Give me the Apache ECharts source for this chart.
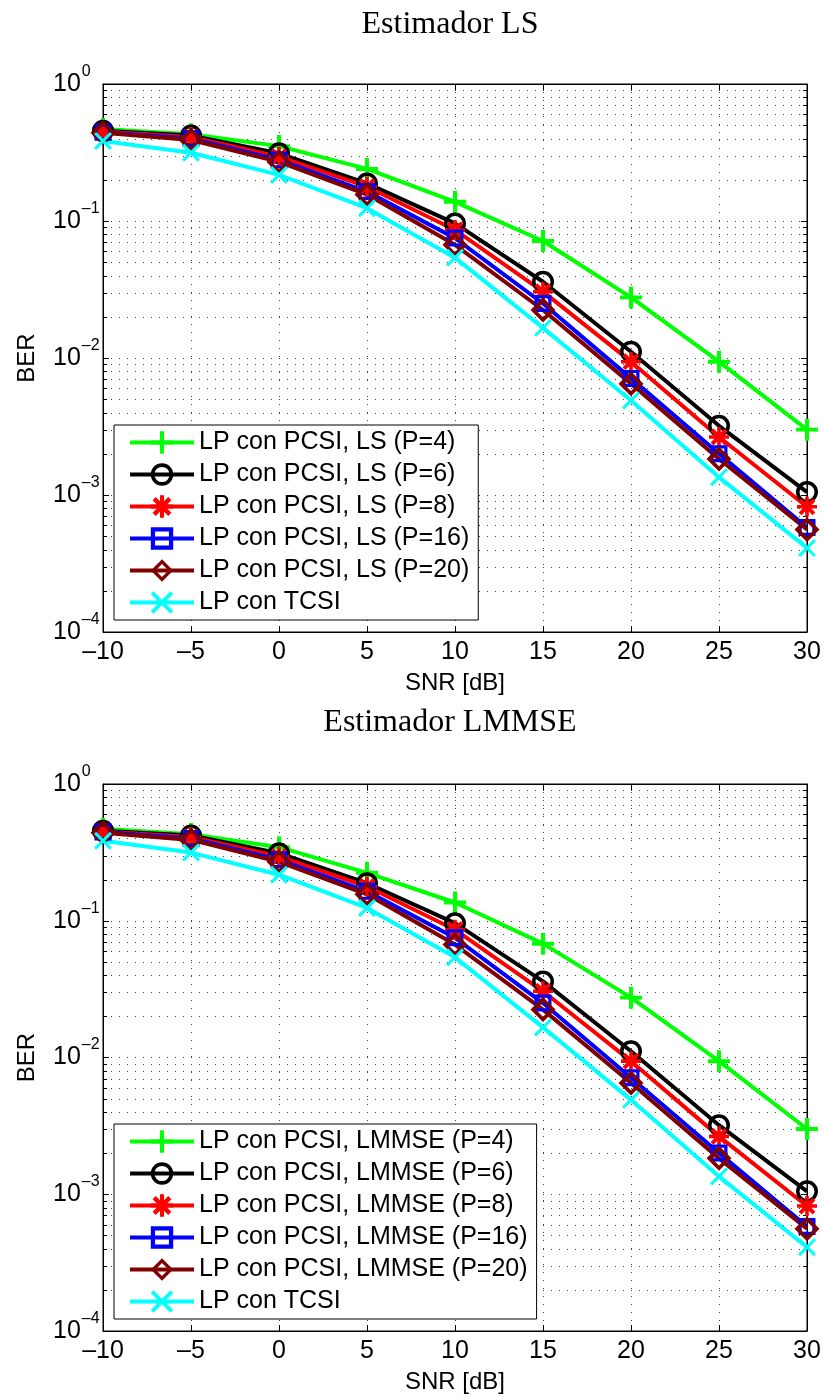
<!DOCTYPE html>
<html>
<head>
<meta charset="utf-8">
<script src="https://cdn.jsdelivr.net/npm/echarts@6/dist/echarts.min.js"></script>
<style>
  html, body { margin: 0; padding: 0; background: #fff; }
  #main { width: 826px; height: 1397px; }
</style>
</head>
<body>
<div id="main"></div>
<script>
// SNR axis (dB)
const snr = [-10, -5, 0, 5, 10, 15, 20, 25, 30];

// BER values, LS estimator (upper plot)
const lsP4  = [0.47, 0.43, 0.352, 0.240, 0.138, 0.0714, 0.0277, 0.0094, 0.0030];
const lsP6  = [0.455, 0.42, 0.312, 0.188, 0.096, 0.036, 0.0111, 0.0032, 0.00105];
const lsP8  = [0.45, 0.41, 0.295, 0.178, 0.086, 0.0305, 0.0094, 0.00265, 0.00082];
const lsP16 = [0.445, 0.40, 0.279, 0.164, 0.075, 0.025, 0.0071, 0.0020, 0.00058];
const lsP20 = [0.44, 0.39, 0.270, 0.156, 0.067, 0.0224, 0.0065, 0.00183, 0.00056];
const lsTcsi = [0.384, 0.315, 0.217, 0.124, 0.054, 0.0166, 0.0049, 0.00135, 0.00041];

// BER values, LMMSE estimator (lower plot)
const lmP4  = [0.47, 0.43, 0.345, 0.224, 0.136, 0.068, 0.0274, 0.0094, 0.0030];
const lmP6  = [0.455, 0.42, 0.312, 0.188, 0.096, 0.036, 0.0111, 0.0032, 0.00105];
const lmP8  = [0.45, 0.41, 0.295, 0.178, 0.086, 0.0305, 0.0094, 0.00265, 0.00082];
const lmP16 = [0.445, 0.40, 0.279, 0.164, 0.075, 0.025, 0.0071, 0.0020, 0.00058];
const lmP20 = [0.44, 0.39, 0.270, 0.156, 0.067, 0.0224, 0.0065, 0.00183, 0.00056];
const lmTcsi = [0.384, 0.315, 0.217, 0.124, 0.054, 0.0166, 0.0049, 0.00135, 0.00041];

const lsNames = ['LP con PCSI, LS (P=4)', 'LP con PCSI, LS (P=6)', 'LP con PCSI, LS (P=8)',
  'LP con PCSI, LS (P=16)', 'LP con PCSI, LS (P=20)', 'LP con TCSI'];
const lmNames = ['LP con PCSI, LMMSE (P=4)', 'LP con PCSI, LMMSE (P=6)', 'LP con PCSI, LMMSE (P=8)',
  'LP con PCSI, LMMSE (P=16)', 'LP con PCSI, LMMSE (P=20)', 'LP con TCSI'];

// tick values for the log axis minor grid (mantissa x decade)
const minorMantissas = [2, 3, 4, 5, 6, 7, 8, 9];
const decades = [1e-4, 1e-3, 1e-2, 1e-1];

// matlab-like marker shapes
const SYM = {
  plus: 'path://M-1.8,-10H1.8V-1.8H10V1.8H1.8V10H-1.8V1.8H-10V-1.8H-1.8Z',
  circle: 'path://M0,-10A10,10,0,1,1,0,10A10,10,0,1,1,0,-10Z M0,-6.8A6.8,6.8,0,1,0,0,6.8A6.8,6.8,0,1,0,0,-6.8Z',
  star: 'path://M-1.8,-10H1.8V-1.8H10V1.8H1.8V10H-1.8V1.8H-10V-1.8H-1.8Z M-5.6,-8.4L8.4,5.6L5.6,8.4L-8.4,-5.6Z M5.6,-8.4L8.4,-5.6L-5.6,8.4L-8.4,5.6Z',
  square: 'path://M-10,-10H10V10H-10Z M-6.2,-6.2V6.2H6.2V-6.2Z',
  diamond: 'path://M0,-10L10,0L0,10L-10,0Z M0,-5.8L-5.8,0L0,5.8L5.8,0Z',
  cross: 'path://M-7.6,-10L10,7.6L7.6,10L-10,-7.6Z M7.6,-10L10,-7.6L-7.6,10L-10,7.6Z'
};

const styles = [
  { color: '#00ff00', symbol: SYM.plus, size: 22 },
  { color: '#000000', symbol: SYM.circle, size: 22 },
  { color: '#ff0000', symbol: SYM.star, size: 20 },
  { color: '#0000ff', symbol: SYM.square, size: 17 },
  { color: '#800000', symbol: SYM.diamond, size: 25 },
  { color: '#00ffff', symbol: SYM.cross, size: 18 }
];

const FONT = 'Liberation Sans';
const dotted = { color: '#444', width: 1, type: [1, 7] };

const minorVals = [];
decades.forEach(d => minorMantissas.forEach(m => minorVals.push([snr[0], m * d])));

function supLabel(v) {
  const e = Math.round(Math.log10(v));
  return '{b|10}{s|' + (e < 0 ? '\u2013' + Math.abs(e) : e) + '}';
}

function makeX(gridIndex, pos) {
  return {
    type: 'value', gridIndex: gridIndex, position: pos,
    min: -10, max: 30, interval: 5,
    axisLine: { show: true, onZero: false, lineStyle: { color: '#000', width: 1 } },
    axisTick: { show: true, inside: true, length: 6, lineStyle: { color: '#000' } },
    axisLabel: {
      show: pos === 'bottom', margin: 8, color: '#000', fontSize: 25, fontFamily: FONT,
      formatter: v => v < 0 ? '\u2013' + Math.abs(v) : '' + v
    },
    splitLine: { show: pos === 'bottom', lineStyle: dotted },
    name: pos === 'bottom' ? 'SNR [dB]' : '',
    nameLocation: 'middle', nameGap: 39,
    nameTextStyle: { color: '#000', fontSize: 24, fontFamily: FONT }
  };
}

function makeY(gridIndex, pos) {
  return {
    type: 'log', logBase: 10, gridIndex: gridIndex, position: pos,
    min: 1e-4, max: 1,
    axisLine: { show: true, onZero: false, lineStyle: { color: '#000', width: 1 } },
    axisTick: { show: true, inside: true, length: 6, lineStyle: { color: '#000' } },
    axisLabel: {
      show: pos === 'left', margin: 50, align: 'left', color: '#000', fontFamily: FONT,
      formatter: supLabel,
      padding: [0, 0, 8, 0],
      rich: {
        b: { fontSize: 25, fontFamily: FONT, color: '#000', verticalAlign: 'bottom', padding: [8, 0, 0, 0] },
        s: { fontSize: 16, fontFamily: FONT, color: '#000', verticalAlign: 'top', padding: [0, 0, 0, 1] }
      }
    },
    splitLine: { show: pos === 'left', lineStyle: dotted },
    name: pos === 'left' ? 'BER' : '',
    nameLocation: 'middle', nameGap: 64,
    nameTextStyle: { color: '#000', fontSize: 24, fontFamily: FONT }
  };
}

// minor dotted rows + small inner ticks on both sides
function minorGrid(params, api) {
  const v = api.value(1);
  const p0 = api.coord([snr[0], v]);
  const p1 = api.coord([snr[snr.length - 1], v]);
  const y = Math.round(p0[1]) + 0.5;
  return {
    type: 'group',
    children: [
      { type: 'line', shape: { x1: p0[0], y1: y, x2: p1[0], y2: y }, style: { stroke: '#444', lineWidth: 1, lineDash: [1, 7] } },
      { type: 'line', shape: { x1: p0[0], y1: y, x2: p0[0] + 4, y2: y }, style: { stroke: '#000', lineWidth: 1 } },
      { type: 'line', shape: { x1: p1[0] - 4, y1: y, x2: p1[0], y2: y }, style: { stroke: '#000', lineWidth: 1 } }
    ]
  };
}

function lineSeries(name, vals, st, axisIdx) {
  return {
    type: 'line', name: name,
    xAxisIndex: axisIdx, yAxisIndex: axisIdx,
    data: snr.map((x, i) => [x, vals[i]]),
    symbol: st.symbol, symbolSize: st.size,
    lineStyle: { color: st.color, width: 4 },
    itemStyle: { color: st.color, borderWidth: 0 },
    z: 3
  };
}

function legendOf(names, top) {
  return {
    data: names, orient: 'vertical', left: 114, top: top,
    padding: [5, 9, 5, 14], itemGap: 7, itemWidth: 64, itemHeight: 28,
    backgroundColor: '#fff', borderColor: '#000', borderWidth: 1, borderRadius: 0,
    selectedMode: false,
    lineStyle: { width: 4 },
    textStyle: { color: '#000', fontSize: 25, fontFamily: FONT }
  };
}

const lsData = [lsP4, lsP6, lsP8, lsP16, lsP20, lsTcsi];
const lmData = [lmP4, lmP6, lmP8, lmP16, lmP20, lmTcsi];

const series = [
  { type: 'custom', xAxisIndex: 0, yAxisIndex: 0, data: minorVals, renderItem: minorGrid, silent: true, z: 1 },
  { type: 'custom', xAxisIndex: 2, yAxisIndex: 2, data: minorVals, renderItem: minorGrid, silent: true, z: 1 }
];
lsData.forEach((d, i) => series.push(lineSeries(lsNames[i], d, styles[i], 0)));
lmData.forEach((d, i) => series.push(lineSeries(lmNames[i], d, styles[i], 2)));

const chart = echarts.init(document.getElementById('main'));
chart.setOption({
  animation: false,
  backgroundColor: '#fff',
  title: [
    { text: 'Estimador LS', left: 445, top: 4, textAlign: 'center',
      textStyle: { fontFamily: 'Liberation Serif', fontWeight: 'normal', fontSize: 32, color: '#000' } },
    { text: 'Estimador LMMSE', left: 445, top: 702, textAlign: 'center',
      textStyle: { fontFamily: 'Liberation Serif', fontWeight: 'normal', fontSize: 32, color: '#000' } }
  ],
  grid: [
    { left: 103, top: 84, width: 704, height: 548, show: true, borderColor: '#000', borderWidth: 1, backgroundColor: '#fff' },
    { left: 103, top: 784, width: 704, height: 547, show: true, borderColor: '#000', borderWidth: 1, backgroundColor: '#fff' }
  ],
  xAxis: [makeX(0, 'bottom'), makeX(0, 'top'), makeX(1, 'bottom'), makeX(1, 'top')],
  yAxis: [makeY(0, 'left'), makeY(0, 'right'), makeY(1, 'left'), makeY(1, 'right')],
  legend: [legendOf(lsNames, 425), legendOf(lmNames, 1124)],
  series: series
});
</script>
</body>
</html>
